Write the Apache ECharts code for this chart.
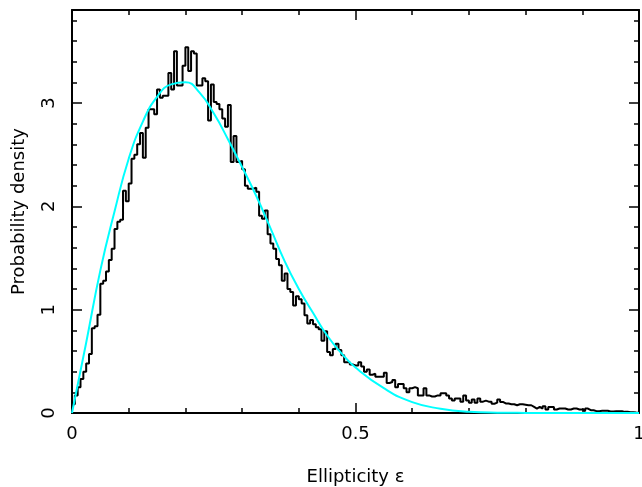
<!DOCTYPE html>
<html>
<head>
<meta charset="utf-8">
<script src="https://cdn.jsdelivr.net/npm/echarts@6/dist/echarts.min.js"></script>
<style>
  html, body { margin: 0; padding: 0; background: #fff; }
  #chart { width: 642px; height: 487px; }
</style>
</head>
<body>
<div id="chart"></div>
<script>
// Histogram of ellipticity, 200 bins of width 0.005
const binWidth = 0.005;
const histValues = [
    0.085, 0.17, 0.25, 0.33, 0.40, 0.48, 0.57, 0.82, 0.84, 0.95,
    1.25, 1.28, 1.37, 1.48, 1.59, 1.78, 1.85, 1.87, 2.15, 2.05,
    2.22, 2.46, 2.50, 2.60, 2.71, 2.47, 2.76, 2.94, 2.94, 2.89,
    3.13, 3.05, 3.07, 3.07, 3.29, 3.13, 3.50, 3.17, 3.17, 3.36,
    3.54, 3.31, 3.50, 3.48, 3.17, 3.17, 3.24, 3.21, 2.83, 3.18,
    3.01, 2.99, 2.94, 2.85, 2.77, 2.98, 2.43, 2.68, 2.43, 2.44,
    2.36, 2.20, 2.17, 2.17, 2.18, 2.14, 1.91, 1.88, 1.96, 1.73,
    1.64, 1.59, 1.49, 1.43, 1.28, 1.35, 1.20, 1.17, 1.04, 1.13,
    1.10, 1.06, 0.945, 0.865, 0.90, 0.86, 0.83, 0.81, 0.70, 0.79,
    0.59, 0.56, 0.62, 0.67, 0.61, 0.56, 0.49, 0.49, 0.47, 0.46,
    0.46, 0.49, 0.45, 0.40, 0.42, 0.37, 0.38, 0.35, 0.35, 0.35,
    0.39, 0.29, 0.30, 0.32, 0.25, 0.28, 0.28, 0.24, 0.20, 0.24,
    0.25, 0.24, 0.17, 0.17, 0.24, 0.17, 0.16, 0.16, 0.17, 0.17,
    0.19, 0.19, 0.17, 0.14, 0.12, 0.14, 0.14, 0.11, 0.17, 0.12,
    0.10, 0.13, 0.10, 0.14, 0.11, 0.12, 0.11, 0.11, 0.09, 0.10,
    0.13, 0.107, 0.092, 0.092, 0.085, 0.085, 0.075, 0.085, 0.085, 0.08,
    0.075, 0.075, 0.059, 0.043, 0.059, 0.043, 0.065, 0.034, 0.059, 0.059,
    0.034, 0.043, 0.043, 0.043, 0.034, 0.034, 0.043, 0.043, 0.034, 0.034,
    0.018, 0.043, 0.027, 0.027, 0.018, 0.018, 0.021, 0.021, 0.021, 0.014,
    0.014, 0.018, 0.018, 0.018, 0.011, 0.011, 0.008, 0.008, 0.005, 0.003
];

// Fitted model curve (cyan), sampled off the plot
const curveX = [0, 0.025, 0.05, 0.075, 0.1, 0.125, 0.15, 0.175, 0.2, 0.225,
    0.25, 0.275, 0.3, 0.325, 0.35, 0.375, 0.4, 0.425, 0.45, 0.475,
    0.5, 0.55, 0.6, 0.65, 0.7, 0.75, 0.8, 0.9, 1.0];
const curveY = [0, 0.68, 1.38, 1.95, 2.46, 2.82, 3.06, 3.18, 3.20, 3.10,
    2.90, 2.65, 2.38, 2.10, 1.79, 1.47, 1.20, 0.97, 0.75, 0.58,
    0.44, 0.24, 0.105, 0.042, 0.012, 0.003, 0.001, 0, 0];

const xTickLabels = ['0', '0.5', '1'];
const yMax = 3.9;

// step line from the bin left edges
const histData = [[0, 0]];
histValues.forEach((v, i) => histData.push([i * binWidth, v]));
histData.push([1, histValues[histValues.length - 1]]);

const curveData = curveX.map((x, i) => [x, curveY[i]]);

const fontFamily = 'DejaVu Sans';
const black = '#000';

function xAxisCfg(position, showLabel) {
    return {
        type: 'value', position: position, min: 0, max: 1, interval: 0.5,
        axisLine: { show: true, onZero: false, lineStyle: { color: black, width: 2 } },
        axisTick: { show: true, inside: true, length: 10, lineStyle: { color: black, width: 1.5 } },
        minorTick: { show: true, splitNumber: 5, length: 5, lineStyle: { color: black, width: 1.5 } },
        splitLine: { show: false },
        axisLabel: {
            show: showLabel, margin: 12, color: black, fontSize: 18, fontFamily: fontFamily,
            formatter: v => xTickLabels[Math.round(v * 2)]
        }
    };
}

function yAxisCfg(position, interval, len, showLine, showLabel) {
    return {
        type: 'value', position: position, min: 0, max: yMax, interval: interval,
        axisLine: { show: showLine, onZero: false, lineStyle: { color: black, width: 2 } },
        axisTick: { show: true, inside: true, length: len, lineStyle: { color: black, width: 1.5 } },
        splitLine: { show: false },
        axisLabel: {
            show: showLabel, rotate: 90, margin: 14, showMaxLabel: false,
            color: black, fontSize: 18, fontFamily: fontFamily
        }
    };
}

const chart = echarts.init(document.getElementById('chart'), null, { renderer: 'canvas' });

const xBottom = xAxisCfg('bottom', true);
xBottom.name = 'Ellipticity ε';
xBottom.nameLocation = 'middle';
xBottom.nameGap = 55;
xBottom.nameTextStyle = { color: black, fontSize: 18, fontFamily: fontFamily };

const yLeft = yAxisCfg('left', 1, 10, true, true);
yLeft.name = 'Probability density';
yLeft.nameLocation = 'middle';
yLeft.nameGap = 44;
yLeft.nameTextStyle = { color: black, fontSize: 18, fontFamily: fontFamily };

const option = {
    animation: false,
    backgroundColor: '#fff',
    grid: { left: 72, right: 3, top: 10, bottom: 74, containLabel: false, outerBoundsMode: 'none' },
    xAxis: [xBottom, xAxisCfg('top', false)],
    yAxis: [
        yLeft,
        yAxisCfg('left', 0.2, 5, false, false),
        yAxisCfg('right', 1, 10, true, false),
        yAxisCfg('right', 0.2, 5, false, false)
    ],
    series: [
        {
            name: 'histogram', type: 'line', step: 'end', symbol: 'none',
            xAxisIndex: 0, yAxisIndex: 0,
            lineStyle: { color: black, width: 2 },
            data: histData, z: 2
        },
        {
            name: 'model', type: 'line', smooth: true, symbol: 'none',
            xAxisIndex: 0, yAxisIndex: 0,
            lineStyle: { color: '#00ffff', width: 2 },
            data: curveData, z: 3
        }
    ]
};

chart.setOption(option);
</script>
</body>
</html>
